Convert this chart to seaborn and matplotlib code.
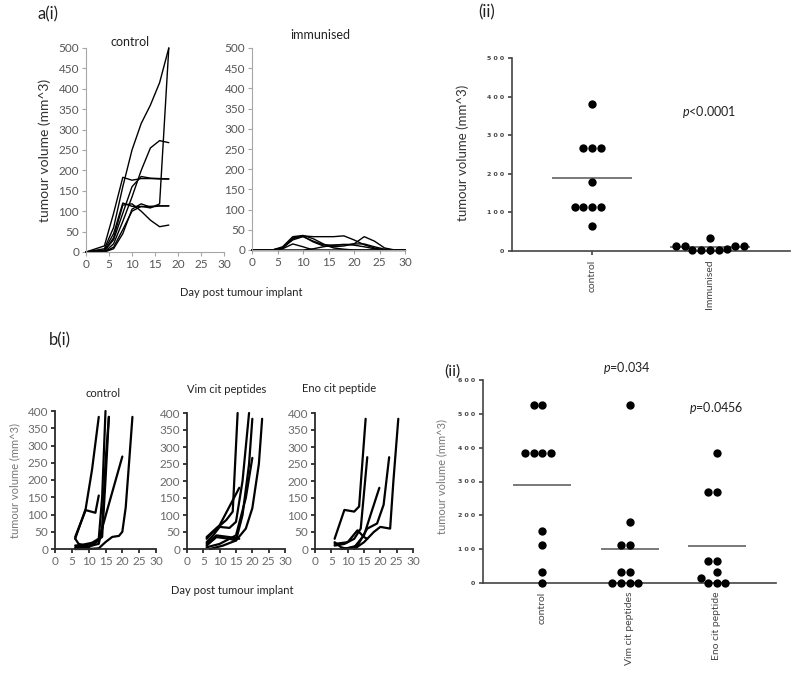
import numpy as np
import pandas as pd
import seaborn as sns
import matplotlib.pyplot as plt

# a(i): tumour volume (mm^3) per mouse
a_ctrl_days = [0, 4, 6, 8, 10, 12, 14, 16, 18]
a_ctrl_mice = [
    [0, 8, 60, 160, 250, 315, 360, 415, 500],
    [0, 15, 95, 183, 176, 180, 180, 179, 179],
    [0, 3, 30, 95, 160, 185, 181, 180, 179],
    [0, 5, 45, 120, 112, 111, 112, 113, 113],
    [0, 2, 35, 115, 118, 100, 78, 62, 66],
    [0, 0, 20, 75, 135, 200, 255, 273, 268],
    [0, 0, 12, 55, 100, 112, 108, 118, 500],
    [0, 0, 8, 45, 105, 118, 110, 113, 113],
]
a_imm_days = [0, 4, 6, 8, 10, 12, 14, 16, 18, 20, 22, 24, 26, 28, 30]
a_imm_mice = [
    [0, 0, 5, 28, 35, 33, 33, 33, 35, 25, 13, 5, 0, 0, 0],
    [0, 0, 8, 33, 36, 28, 15, 5, 2, 0, 0, 0, 0, 0, 0],
    [0, 0, 3, 15, 8, 0, 0, 0, 0, 0, 0, 0, 0, 0, 0],
    [0, 0, 5, 25, 33, 22, 13, 12, 14, 12, 8, 3, 0, 0, 0],
    [0, 0, 0, 0, 0, 3, 8, 12, 13, 15, 33, 22, 5, 0, 0],
    [0, 0, 0, 0, 0, 0, 0, 0, 0, 0, 0, 0, 0, 0, 0],
    [0, 0, 4, 30, 34, 20, 10, 8, 10, 15, 15, 8, 2, 0, 0],
]

# a(ii): end-point volumes
a_groups = ['control', 'Immunised']
a_ctrl_end = [380, 268, 268, 268, 180, 113, 113, 113, 113, 65]
a_imm_end = [13, 13, 3, 3, 3, 33, 3, 5, 13, 13]
a_pval = '<0.0001'

# b(i): each mouse has its own measuring days
b_ctrl_days = [[6, 9, 12, 13], [6, 9, 11, 13], [6, 8, 11, 13, 14, 15],
               [6, 9, 12, 14, 15, 16], [6, 9, 13, 14, 15, 16],
               [6, 10, 13, 16, 20], [6, 10, 13, 15, 17, 19, 20, 21, 22, 23],
               [6, 7, 9, 11, 13]]
b_ctrl_vols = [[30, 113, 105, 155], [35, 110, 230, 383], [10, 12, 18, 30, 150, 400],
               [5, 10, 20, 35, 200, 383], [0, 5, 15, 60, 250, 383],
               [0, 5, 25, 130, 268], [0, 0, 2, 20, 35, 38, 50, 120, 250, 383],
               [30, 15, 10, 15, 25]]
b_vim_days = [[6, 9, 12, 14, 15.5], [6, 10, 13, 16], [6, 8, 10, 13, 15, 17, 19],
              [6, 9, 13, 15, 17, 19, 20], [6, 10, 15, 18, 20],
              [7, 11, 15, 18, 20, 22, 23], [6, 9, 13, 16]]
b_vim_vols = [[30, 60, 85, 110, 400], [35, 70, 125, 180], [20, 40, 65, 62, 80, 200, 400],
              [10, 35, 30, 25, 100, 250, 383], [5, 15, 40, 150, 268],
              [0, 10, 25, 60, 120, 250, 383], [15, 40, 35, 30]]
b_eno_days = [[6, 9, 12, 13.5, 15.5], [6, 10, 13, 15, 16], [6, 9, 12, 14, 16],
              [8, 12, 15, 17, 19.7], [9, 13, 16, 19, 21, 22.7],
              [12, 15, 18, 20, 23, 24, 25.5], [6, 8, 10]]
b_eno_vols = [[30, 115, 110, 125, 383], [15, 20, 55, 35, 30], [10, 15, 30, 60, 270],
              [0, 5, 40, 100, 180], [0, 10, 60, 75, 130, 270],
              [0, 20, 50, 65, 60, 200, 383], [20, 5, 0]]

# b(ii): end-point volumes
b_groups = ['control', 'Vim cit peptides', 'Eno cit peptide']
b_ctrl_end = [525, 525, 383, 383, 383, 383, 155, 113, 33, 0]
b_vim_end = [525, 180, 113, 113, 33, 0, 0, 0, 0, 33]
b_eno_end = [383, 268, 268, 65, 65, 33, 0, 0, 0, 15]
b_pvals = ['=0.034', '=0.0456']

sns.set_style('ticks')
plt.rcParams['font.family'] = ['Lato', 'DejaVu Sans']
plt.rcParams['mathtext.fontset'] = 'custom'
plt.rcParams['mathtext.it'] = 'Lato:italic'
plt.rcParams['mathtext.rm'] = 'Lato'

W, H = 800, 679
fig = plt.figure(figsize=(8, 6.79), dpi=100)


def px_axes(x0, y0, x1, y1):
    return fig.add_axes([x0 / W, 1 - y1 / H, (x1 - x0) / W, (y1 - y0) / H])


def px_text(x, y, s, **kw):
    fig.text(x / W, 1 - y / H, s, **kw)


def long_form(days, mice):
    rows = []
    for i, vols in enumerate(mice):
        d = days[i] if isinstance(days[0], list) else days
        for day, v in zip(d, vols):
            rows.append({'mouse': i, 'day': day, 'vol': v})
    return pd.DataFrame(rows)


def growth(ax, df, lw, ymax, ystep, spine_col, spine_lw):
    sns.lineplot(data=df, x='day', y='vol', units='mouse', estimator=None,
                 color='black', lw=lw, ax=ax, legend=False)
    ax.set_xlim(0, 30)
    ax.set_ylim(0, ymax)
    ax.set_xticks(range(0, 31, 5))
    ax.set_yticks(range(0, ymax + 1, ystep))
    ax.set_xlabel('')
    ax.set_ylabel('')
    sns.despine(ax=ax)
    for s in ['left', 'bottom']:
        ax.spines[s].set_color(spine_col)
        ax.spines[s].set_linewidth(spine_lw)
    ax.tick_params(colors=spine_col, labelcolor='#555555', labelsize=8.5,
                   length=3, width=spine_lw, pad=2)
    ax.patch.set_alpha(0)
    for ln in ax.lines:
        ln.set_clip_on(False)


def dots(ax, groups, values, ymax, ystep, size, half):
    df = pd.DataFrame({'group': np.repeat(groups, [len(v) for v in values]),
                       'vol': np.concatenate(values)})
    sns.swarmplot(data=df, x='group', y='vol', order=groups, color='black',
                  size=size, ax=ax)
    sns.pointplot(data=df, x='group', y='vol', order=groups, estimator='mean',
                  errorbar=None, linestyle='none', marker='_', markersize=half,
                  markeredgewidth=1.1, color='#555555', ax=ax)
    ax.set_ylim(0, ymax)
    ax.set_xlim(-0.68, len(groups) - 1 + 0.68)
    ticks = list(range(0, ymax + 1, ystep))
    ax.set_yticks(ticks)
    ax.set_yticklabels([' '.join(str(t)) for t in ticks], family='DejaVu Sans',
                       fontweight='bold', fontsize=4.5, color='#555555')
    ax.set_xticks(range(len(groups)))
    ax.set_xticklabels(groups, rotation=90, fontsize=7.5, color='#333333')
    ax.set_xlabel('')
    ax.set_ylabel('')
    sns.despine(ax=ax)
    for s in ['left', 'bottom']:
        ax.spines[s].set_color('#444444')
        ax.spines[s].set_linewidth(1.2)
    ax.tick_params(colors='#444444', length=3, width=1.2, pad=3)
    for c in ax.collections:
        c.set_clip_on(False)
    ax.patch.set_alpha(0)


# ---- a(i)
ax1 = px_axes(86, 48, 224, 252)
growth(ax1, long_form(a_ctrl_days, a_ctrl_mice), 1.0, 500, 50, '#a6a6a6', 0.8)
ax2 = px_axes(252, 48, 405, 250)
growth(ax2, long_form(a_imm_days, a_imm_mice), 1.0, 500, 50, '#a6a6a6', 0.8)
px_text(38, 14, 'a(i)', fontsize=12, color='#222222', va='center')
px_text(130, 42, 'control', fontsize=9, ha='center', va='center', color='#222222')
px_text(320, 35, 'immunised', fontsize=9, ha='center', va='center', color='#222222')
px_text(45, 150, 'tumour volume (mm^3)', fontsize=10, rotation=90,
        ha='center', va='center', color='#333333')
px_text(241, 292, 'Day post tumour implant', fontsize=8, ha='center',
        va='center', color='#222222')

# ---- a(ii)
ax3 = px_axes(512, 58, 790, 251)
dots(ax3, a_groups, [a_ctrl_end, a_imm_end], 500, 100, 6, 57)
px_text(478, 12, '(ii)', fontsize=12, color='#222222', va='center')
px_text(463, 153, 'tumour volume (mm^3)', fontsize=9.5, rotation=90,
        ha='center', va='center', color='#333333')
px_text(709, 112, '$p$' + a_pval, fontsize=9, ha='center', va='center',
        color='#222222')

# ---- b(i)
b_sets = [(b_ctrl_days, b_ctrl_vols, (55, 411, 156, 549), 'control', 103, 393),
          (b_vim_days, b_vim_vols, (187, 413, 285, 549), 'Vim cit peptides', 227, 390),
          (b_eno_days, b_eno_vols, (315, 413, 413, 549), 'Eno cit peptide', 339, 388)]
for days, vols, box, title, tx, ty in b_sets:
    ax = px_axes(*box)
    growth(ax, long_form(days, vols), 1.6, 400, 50, '#2a2a2a', 1.3)
    ax.tick_params(labelcolor='#6a6a6a')
    px_text(tx, ty, title, fontsize=8, ha='center', va='center', color='#222222')
px_text(49, 340, 'b(i)', fontsize=12, color='#222222', va='center')
px_text(15, 480, 'tumour volume (mm^3)', fontsize=8, rotation=90,
        ha='center', va='center', color='#777777')
px_text(232, 590, 'Day post tumour implant', fontsize=8, ha='center',
        va='center', color='#222222')

# ---- b(ii)
ax4 = px_axes(483, 380, 776, 583)
dots(ax4, b_groups, [b_ctrl_end, b_vim_end, b_eno_end], 600, 100, 6, 42)
px_text(452, 372, '(ii)', fontsize=11.5, color='#222222', ha='center', va='center')
px_text(442, 477, 'tumour volume (mm^3)', fontsize=8, rotation=90,
        ha='center', va='center', color='#777777')
px_text(627, 368, '$p$' + b_pvals[0], fontsize=9, ha='center', va='center',
        color='#222222')
px_text(716, 408, '$p$' + b_pvals[1], fontsize=9, ha='center', va='center',
        color='#222222')

plt.savefig('out.png', dpi=100)
